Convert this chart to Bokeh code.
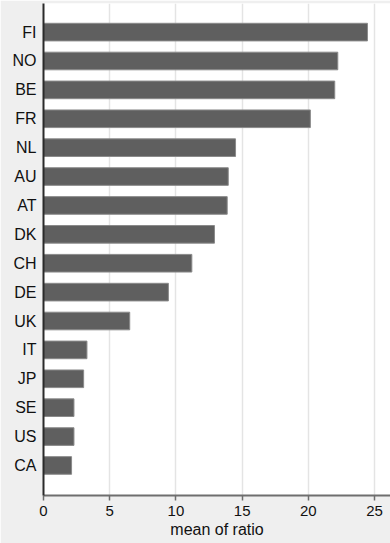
from bokeh.plotting import figure
from bokeh.models import Range1d, FixedTicker, ColumnDataSource
from bokeh.embed import file_html
from bokeh.resources import INLINE

countries = ["FI", "NO", "BE", "FR", "NL", "AU", "AT", "DK", "CH", "DE", "UK", "IT", "JP", "SE", "US", "CA"]
mean_ratio = [24.46, 22.22, 21.99, 20.15, 14.50, 13.95, 13.87, 12.91, 11.20, 9.43, 6.51, 3.28, 3.03, 2.30, 2.30, 2.12]
x_ticks = [0, 5, 10, 15, 20, 25]

n = len(countries)
pos = [n - i for i in range(n)]  # first country on top
src = ColumnDataSource(dict(y=pos, right=mean_ratio, c=countries))

FONT = "Liberation Sans"

p = figure(width=390, height=543, output_backend="svg", toolbar_location=None,
           x_range=Range1d(0, 26.2), y_range=Range1d(-0.04, 16.99),
           min_border_left=43, min_border_right=0, min_border_top=3, min_border_bottom=48)
p.background_fill_color = "white"
p.border_fill_color = "#efefef"
p.outline_line_color = None

p.hbar(y="y", left=0, right="right", height=0.61, source=src,
       fill_color="#5f5f5f", line_color="#8a8a8a", line_width=1)

# x axis
p.xaxis.ticker = FixedTicker(ticks=x_ticks)
p.xaxis.axis_label = "mean of ratio"
p.xaxis.axis_label_text_font = FONT
p.xaxis.axis_label_text_font_size = "16px"
p.xaxis.axis_label_text_font_style = "normal"
p.xaxis.axis_label_text_color = "#111111"
p.xaxis.axis_label_standoff = 2
p.xaxis.major_label_text_font = FONT
p.xaxis.major_label_text_font_size = "15px"
p.xaxis.major_label_text_color = "#111111"
p.xaxis.major_label_standoff = 5
p.xaxis.axis_line_color = "#6e6e6e"
p.xaxis.axis_line_width = 2
p.xaxis.major_tick_line_color = "#6e6e6e"
p.xaxis.major_tick_line_width = 1.5
p.xaxis.major_tick_out = 5
p.xaxis.major_tick_in = 0
p.xaxis.minor_tick_line_color = None

# y axis
p.yaxis.ticker = FixedTicker(ticks=pos)
p.yaxis.major_label_overrides = {pv: c for pv, c in zip(pos, countries)}
p.yaxis.major_label_text_font = FONT
p.yaxis.major_label_text_font_size = "16px"
p.yaxis.major_label_text_color = "#111111"
p.yaxis.major_label_standoff = 7
p.yaxis.major_tick_out = 0
p.yaxis.major_tick_in = 0
p.yaxis.axis_line_color = "#2a2a2a"
p.yaxis.axis_line_width = 2
p.yaxis.major_tick_line_color = None
p.yaxis.minor_tick_line_color = None

p.xgrid.ticker = FixedTicker(ticks=x_ticks)
p.xgrid.grid_line_color = "#e4e4e4"
p.xgrid.grid_line_width = 1.5
p.ygrid.grid_line_color = None

open("out.html", "w").write(file_html(p, INLINE))
